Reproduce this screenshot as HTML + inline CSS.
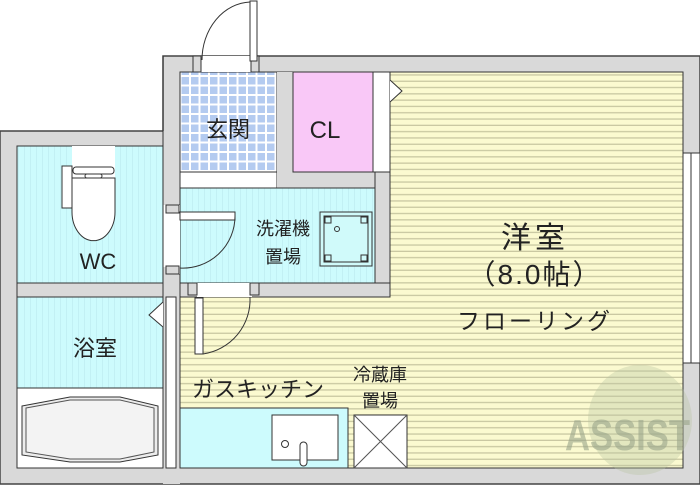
<!DOCTYPE html>
<html><head><meta charset="utf-8"><style>
body{margin:0;width:700px;height:485px;overflow:hidden;background:#fff}
svg{display:block}
text{font-family:"Liberation Sans","Noto Sans CJK JP",sans-serif;fill:#222}
</style></head><body>
<svg width="700" height="485" viewBox="0 0 700 485">
<defs>
<pattern id="fl" width="8" height="6.3" patternUnits="userSpaceOnUse"><rect width="8" height="6.3" fill="#fbfad0"/><rect y="5" width="8" height="1.3" fill="#c9c8a2"/></pattern>
<pattern id="tile" width="9.5" height="9.5" patternUnits="userSpaceOnUse"><rect width="9.5" height="9.5" fill="#fff"/><rect x="1" y="1" width="7.5" height="7.5" fill="#b4cbf0"/></pattern>
<pattern id="cy" width="6" height="6" patternUnits="userSpaceOnUse"><rect width="6" height="6" fill="#cdfbfd"/><rect width="1" height="6" fill="#c2f0f4"/></pattern>
</defs>
<path d="M163 56H700V484H0V131H163Z" fill="#d9d9d9" stroke="#444" stroke-width="1.5"/>
<rect x="180" y="72" width="503" height="396" fill="url(#fl)" stroke="#333"/>
<rect x="180" y="72" width="97" height="100" fill="url(#tile)" stroke="#333"/>
<rect x="180" y="172" width="97" height="16" fill="#fff" stroke="#333"/>
<rect x="277" y="72" width="16" height="116" fill="#d9d9d9"/>
<rect x="277" y="172" width="113" height="16" fill="#d9d9d9"/>
<rect x="293" y="72" width="80" height="100" fill="#f9c8f7" stroke="#333"/>
<rect x="373" y="72" width="17" height="100" fill="#fff" stroke="#333"/>
<path d="M390 80L402 91L390 102" fill="#fff" stroke="#333"/>
<rect x="180" y="188" width="195" height="95" fill="url(#cy)" stroke="#333"/>
<rect x="375" y="172" width="15" height="125" fill="#d9d9d9" stroke="#333"/>
<rect x="180" y="283" width="210" height="14" fill="#d9d9d9" stroke="#333"/>
<rect x="197" y="283" width="55" height="14" fill="#fff"/>
<rect x="188" y="283" width="9" height="12" fill="#d9d9d9" stroke="#333"/>
<rect x="250" y="283" width="9" height="12" fill="#d9d9d9" stroke="#333"/>
<rect x="195" y="298" width="8" height="56" fill="#fff" stroke="#333"/>
<path d="M203 354A55 55 0 0 0 250 297" fill="none" stroke="#333"/>
<rect x="320" y="212" width="52" height="54" fill="#d0fafa" stroke="#333"/>
<rect x="324" y="216" width="44" height="46" fill="none" stroke="#333"/>
<rect x="325" y="217" width="6" height="6" fill="none" stroke="#333"/><rect x="361" y="217" width="6" height="6" fill="none" stroke="#333"/>
<rect x="325" y="255" width="6" height="6" fill="none" stroke="#333"/><rect x="361" y="255" width="6" height="6" fill="none" stroke="#333"/>
<circle cx="337" cy="229" r="2.5" fill="none" stroke="#333"/>
<rect x="163" y="131" width="17" height="353" fill="#d9d9d9"/>
<line x1="163" y1="56" x2="163" y2="205" stroke="#333"/><line x1="180" y1="72" x2="180" y2="205" stroke="#333"/>
<rect x="163" y="205" width="17" height="62" fill="#fff"/>
<rect x="166" y="205" width="13" height="8" fill="#d9d9d9" stroke="#333"/>
<rect x="166" y="266" width="13" height="8" fill="#d9d9d9" stroke="#333"/>
<rect x="180" y="212" width="55" height="8" fill="#fff" stroke="#333"/>
<path d="M235 216A52 52 0 0 1 180 268" fill="none" stroke="#333"/>
<line x1="163" y1="274" x2="163" y2="468" stroke="#333"/><line x1="180" y1="274" x2="180" y2="468" stroke="#333"/>
<rect x="166" y="297" width="10" height="171" fill="#fff" stroke="#333"/>
<rect x="17" y="146" width="146" height="137" fill="url(#cy)" stroke="#333"/>
<rect x="17" y="283" width="146" height="14" fill="#d9d9d9" stroke="#333"/>
<rect x="72" y="146" width="43" height="60" fill="#fff"/>
<path d="M72 178V212A21 28 0 0 0 115 212V178Z" fill="#fff" stroke="#333"/>
<rect x="62" y="166" width="10" height="42" fill="#fff" stroke="#333"/>
<rect x="73" y="167" width="41" height="7" rx="3" fill="#fff" stroke="#333"/>
<rect x="85" y="174" width="17" height="4" rx="2" fill="#fff" stroke="#333"/>
<rect x="17" y="297" width="146" height="91" fill="url(#cy)" stroke="#333"/>
<path d="M163 302L149 315L163 327" fill="#fff" stroke="#333"/>
<rect x="17" y="388" width="146" height="80" fill="#fff" stroke="#333"/>
<path d="M22 406L70 397H120L158 406V455L120 462H70L22 455Z" fill="#ececec" stroke="#333"/>
<path d="M26 408L70 400H120L154 408V452L120 459H70L26 452Z" fill="#f3f3f3" stroke="#555"/>
<rect x="180" y="408" width="168" height="60" fill="#cdfbfd" stroke="#333"/>
<rect x="272" y="415" width="66" height="45" fill="#fff" stroke="#333"/>
<circle cx="285" cy="444" r="3.5" fill="none" stroke="#333"/>
<rect x="300" y="442" width="7" height="24" rx="3.5" fill="#fff" stroke="#333"/>
<rect x="354" y="415" width="53" height="53" fill="#fff" stroke="#333"/>
<path d="M354 415L407 468M407 415L354 468" stroke="#555"/>
<rect x="683" y="153" width="17" height="210" fill="#fff" stroke="#333"/>
<line x1="691" y1="153" x2="691" y2="363" stroke="#333"/>
<rect x="193" y="56" width="66" height="16" fill="#fff"/>
<rect x="193" y="56" width="8" height="16" fill="#d9d9d9" stroke="#333"/>
<rect x="251" y="56" width="8" height="16" fill="#d9d9d9" stroke="#333"/>
<rect x="250" y="1" width="7" height="60" fill="#fff" stroke="#333"/>
<path d="M202 60A50 58 0 0 1 250 2" fill="none" stroke="#333"/>
<ellipse cx="640" cy="420" rx="52" ry="55" fill="#b8c4a0" opacity="0.35"/>
<text x="565" y="450" font-size="44" font-weight="bold" style="fill:#9aa58a;opacity:.6" textLength="125" lengthAdjust="spacingAndGlyphs">ASSIST</text>
<text x="228" y="137" font-size="22" text-anchor="middle">玄関</text>
<text x="325" y="138" font-size="24" text-anchor="middle">CL</text>
<text x="283" y="235" font-size="18" text-anchor="middle">洗濯機</text>
<text x="283" y="263" font-size="18" text-anchor="middle">置場</text>
<text x="98" y="269" font-size="22" text-anchor="middle">WC</text>
<text x="95" y="356" font-size="22" text-anchor="middle">浴室</text>
<text x="535" y="248" font-size="30" text-anchor="middle" letter-spacing="4">洋室</text>
<text x="535" y="284" font-size="28" text-anchor="middle" letter-spacing="2">（8.0帖）</text>
<text x="535" y="329" font-size="23" text-anchor="middle" letter-spacing="3">フローリング</text>
<text x="258" y="397" font-size="22" text-anchor="middle">ガスキッチン</text>
<text x="380" y="381" font-size="18" text-anchor="middle">冷蔵庫</text>
<text x="380" y="407" font-size="18" text-anchor="middle">置場</text>
</svg>
</body></html>
